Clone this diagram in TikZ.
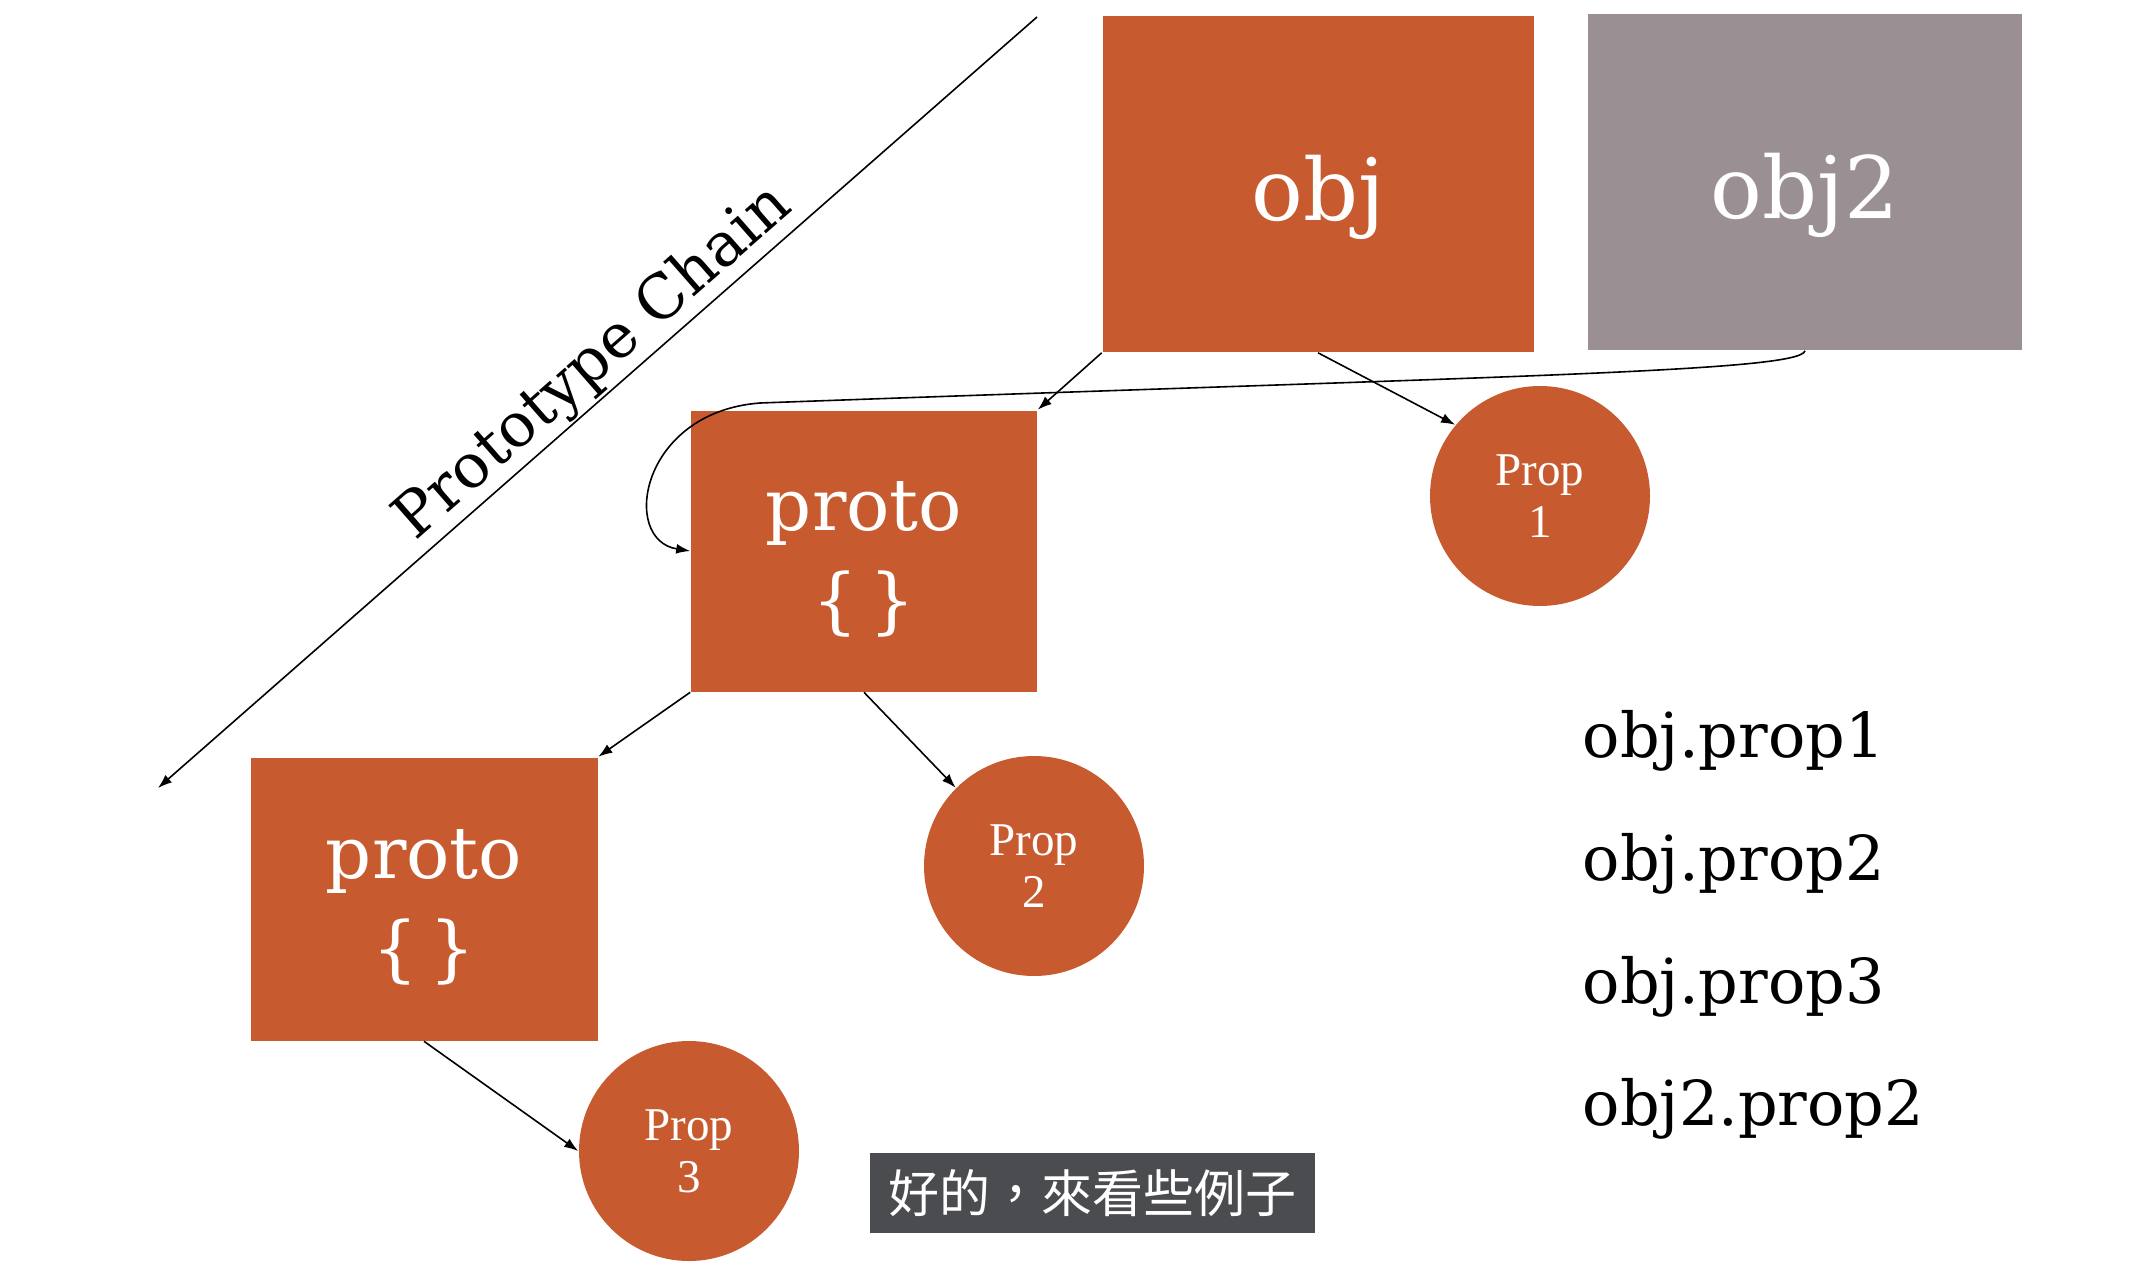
\documentclass[tikz,border=0pt]{standalone}
\usepackage{fontspec}
\setmainfont{DejaVu Serif}
\newfontfamily\propfont{Liberation Serif}
\newfontfamily\cjk{Noto Sans CJK TC}
\usepackage{tikz}
\usetikzlibrary{arrows.meta,positioning,calc}
\definecolor{rust}{HTML}{C75A2E}
\definecolor{slate}{HTML}{9A9093}
\definecolor{capbg}{HTML}{4B4C50}
\tikzset{
  >=Latex,
  every picture/.append style={line width=1.6pt},
}
\tikzset{
  objbox/.style={rectangle, draw=none, fill=rust, text=white, align=center, inner sep=0pt},
  listtext/.style={anchor=base west, inner sep=0pt, font=\fontsize{62}{70}\selectfont}
}

\begin{document}
\begin{tikzpicture}[
    x=1pt, y=-1pt,
    propdot/.style={circle, fill=rust, text=white, align=center, minimum size=220pt, inner sep=0pt, font=\propfont\fontsize{47}{52}\selectfont},
    arrow/.style={-{Latex[length=14pt,width=10pt]}, line width=1.6pt}
]
\useasboundingbox (0,0) rectangle (2148,1274);

\node[objbox, minimum width=431pt, minimum height=336pt, font=\fontsize{86}{90}\selectfont] (obj) at (1318,184) {\raisebox{-36pt}[0pt][0pt]{obj}};
\node[objbox, fill=slate, minimum width=434pt, minimum height=336pt, font=\fontsize{86}{90}\selectfont] (obj2) at (1805,182) {\raisebox{-36pt}[0pt][0pt]{obj2}};
\node[objbox, minimum width=346pt, minimum height=281pt, font=\fontsize{72}{95}\selectfont] (pro1) at (864,551) {\raisebox{-27pt}[0pt][0pt]{proto}\\\raisebox{-27pt}[0pt][0pt]{\{\,\}}};
\node[objbox, minimum width=347pt, minimum height=283pt, font=\fontsize{72}{95}\selectfont] (pro2) at (424,899) {\raisebox{-27pt}[0pt][0pt]{proto}\\\raisebox{-27pt}[0pt][0pt]{\{\,\}}};

\node[propdot] (p1) at (1540,496) {Prop\\1};
\node[propdot] (p2) at (1034,866) {Prop\\2};
\node[propdot] (p3) at (689,1151) {Prop\\3};

% the chain
\coordinate (ctop) at (1037,17);
\coordinate (cend) at (158,788);
\draw[arrow] (ctop) -- (cend) node[pos=0.48, sloped, above=1pt, inner sep=0pt, font=\fontsize{61}{66}\selectfont] (chain) {Prototype Chain};

\draw[arrow] (obj.south west) -- (pro1.north east);
\draw[arrow] (obj.south) -- (p1.140);
\draw[arrow] (obj2.south) .. controls (1800,372) and (1500,376) .. (760,403) .. controls (640,412) and (620,540) .. (pro1.west);
\draw[arrow] (pro1.south west) -- (pro2.north east);
\draw[arrow] (pro1.south) -- (p2.135);
\draw[arrow] (pro2.south) -- (p3.west);

\node[listtext] (l1) at (1582,757) {obj.prop1};
\node[listtext] (l2) at (1582,880) {obj.prop2};
\node[listtext] (l3) at (1582,1003) {obj.prop3};
\node[listtext] (l4) at (1582,1125) {obj2.prop2};

\node[fill=capbg, text=white, minimum width=445pt, minimum height=80pt, inner sep=0pt, font=\cjk\fontsize{51}{56}\selectfont] (sub) at (1092,1193) {好的，來看些例子};
\end{tikzpicture}
\end{document}
